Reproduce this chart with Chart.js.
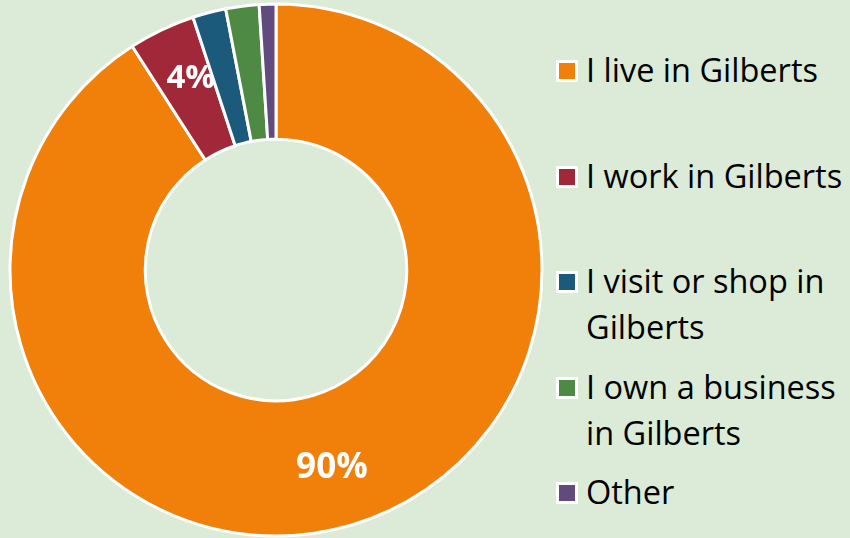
<!DOCTYPE html>
<html>
<head>
<meta charset="utf-8">
<script src="https://cdn.jsdelivr.net/npm/chart.js@4/dist/chart.umd.min.js"></script>
<style>
  html, body { margin: 0; padding: 0; }
  body {
    width: 850px; height: 538px; overflow: hidden;
    background: #dbebd7; position: relative;
    font-family: "Open Sans", sans-serif;
  }
  #chart-wrap { position: absolute; left: 0; top: 0; width: 552px; height: 540px; }
  #legend {
    position: absolute; left: 556px; top: 47px;
    display: flex; flex-direction: column; gap: 13.5px;
    list-style: none; margin: 0; padding: 0;
  }
  #legend li {
    display: flex; align-items: flex-start;
    font-size: 32.5px; line-height: 46px; color: #000;
    min-height: 92px;
  }
  #legend li:last-child { min-height: 0; }
  #legend .box {
    flex: none; width: 16px; height: 16px; border: 3px solid #fff;
    margin-top: 13px; margin-right: 8px;
  }
</style>
</head>
<body>
<div id="chart-wrap"><canvas id="donut"></canvas></div>
<ul id="legend"></ul>
<script>
const labels = [
  'I live in Gilberts',
  'I work in Gilberts',
  'I visit or shop in Gilberts',
  'I own a business in Gilberts',
  'Other',
];
const shares = [90, 4, 2, 2, 1];
const colors = ['#f0800a', '#a12839', '#1c5a7c', '#4f8a45', '#614a7d'];

// white % labels on the bigger slices
const sliceLabels = {
  id: 'sliceLabels',
  afterDatasetsDraw(chart) {
    const { ctx } = chart;
    const meta = chart.getDatasetMeta(0);
    ctx.save();
    ctx.fillStyle = '#fff';
    ctx.textAlign = 'center';
    ctx.textBaseline = 'middle';
    meta.data.forEach((arc, i) => {
      const v = shares[i];
      if (v < 4) return;
      const p = arc.tooltipPosition();
      ctx.font = (i === 0 ? 'bold 35px' : 'bold 33px') + ' "Open Sans", sans-serif';
      const lift = i === 0 ? 8 : -12;
      ctx.fillText(v + '%', p.x, p.y + lift);
    });
    ctx.restore();
  },
};

new Chart(document.getElementById('donut'), {
  type: 'doughnut',
  data: {
    labels,
    datasets: [{
      data: shares,
      backgroundColor: colors,
      borderColor: '#fff',
      borderWidth: 3,
    }],
  },
  options: {
    responsive: true,
    maintainAspectRatio: false,
    animation: false,
    radius: 266,
    cutout: 132,
    plugins: {
      legend: { display: false },
      tooltip: { enabled: false },
    },
  },
  plugins: [sliceLabels],
});

// legend on the right
const legendEl = document.getElementById('legend');
legendEl.innerHTML = labels.map((l, i) =>
  `<li><span class="box" style="background:${colors[i]}"></span><span class="txt">${l}</span></li>`
).join('');
</script>
</body>
</html>
